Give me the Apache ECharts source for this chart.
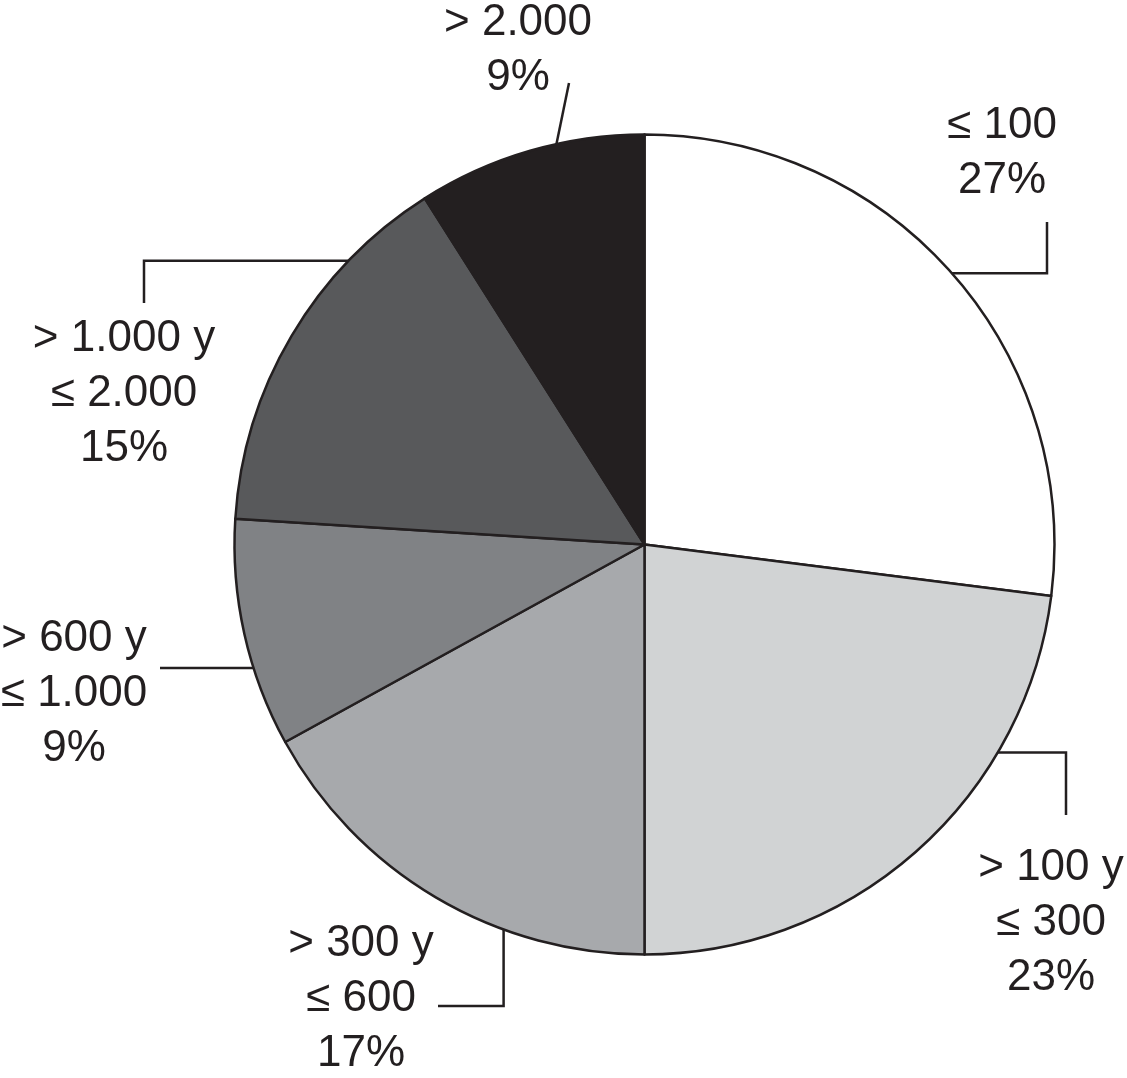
<!DOCTYPE html>
<html>
<head>
<meta charset="utf-8">
<script src="https://cdn.jsdelivr.net/npm/echarts@6/dist/echarts.min.js"></script>
<style>html,body{margin:0;padding:0;background:#fff;}#c{width:1127px;height:1078px;}</style>
</head>
<body>
<div id="c"></div>
<script>
var categories = ['≤ 100', '> 100 y\n≤ 300', '> 300 y\n≤ 600', '> 600 y\n≤ 1.000', '> 1.000 y\n≤ 2.000', '> 2.000'];
var shares = [27, 23, 17, 9, 15, 9];
var colors = ['#ffffff', '#d1d3d4', '#a7a9ac', '#808285', '#58595b', '#231f20'];

// label placement (pixels) and leader lines: anchor angle on rim (deg clockwise from top),
// kind: 'h' = horizontal then vertical, 'v' = vertical then horizontal, 's' = straight
var CX = 644.5, CY = 544.5, R = 410;
var labelPos = [
  {x: 1002, y: 153, a: 48.6, kind: 'h', end: [1047, 222]},
  {x: 1051, y: 923, a: 120.5, kind: 'h', end: [1066, 815]},
  {x: 361, y: 999, a: 200.1, kind: 'v', end: [438, 1006]},
  {x: 74, y: 694, a: 252.7, kind: 's', end: [160, 668]},
  {x: 124, y: 394, a: 313.8, kind: 'h', end: [144, 303]},
  {x: 518, y: 50, a: 347.6, kind: 's', end: [569, 83]}
];
function rim(a) {
  var t = a * Math.PI / 180;
  return [CX + R * Math.sin(t), CY - R * Math.cos(t)];
}
function leader(L) {
  var s = rim(L.a), e = L.end, m;
  if (L.kind === 'h') m = [e[0], s[1]];
  else if (L.kind === 'v') m = [s[0], e[1]];
  else m = [(s[0] + e[0]) / 2, (s[1] + e[1]) / 2];
  if (L.kind === 's' && Math.abs(s[1] - e[1]) < 10) { s = [s[0], e[1]]; m = [(s[0] + e[0]) / 2, e[1]]; }
  return [s, m, e];
}

var chart = echarts.init(document.getElementById('c'));
chart.setOption({
  animation: false,
  backgroundColor: '#ffffff',
  series: [{
    type: 'pie',
    center: [CX, CY],
    radius: R,
    startAngle: 90,
    clockwise: true,
    avoidLabelOverlap: false,
    silent: true,
    itemStyle: {borderColor: '#231f20', borderWidth: 2.5},
    label: {
      show: true,
      position: 'outside',
      formatter: '{b}\n{c}%',
      fontFamily: 'Liberation Sans',
      fontSize: 44,
      lineHeight: 55,
      color: '#231f20',
      align: 'center'
    },
    labelLine: {show: true, smooth: false, length: 10, length2: 10,
      lineStyle: {color: '#231f20', width: 2.5}},
    labelLayout: function (p) {
      var L = labelPos[p.dataIndex];
      return {
        x: L.x, y: L.y, align: 'center', verticalAlign: 'middle',
        labelLinePoints: leader(L)
      };
    },
    data: categories.map(function (c, i) {
      return {name: c, value: shares[i], itemStyle: {color: colors[i]}};
    })
  }]
});
</script>
</body>
</html>
